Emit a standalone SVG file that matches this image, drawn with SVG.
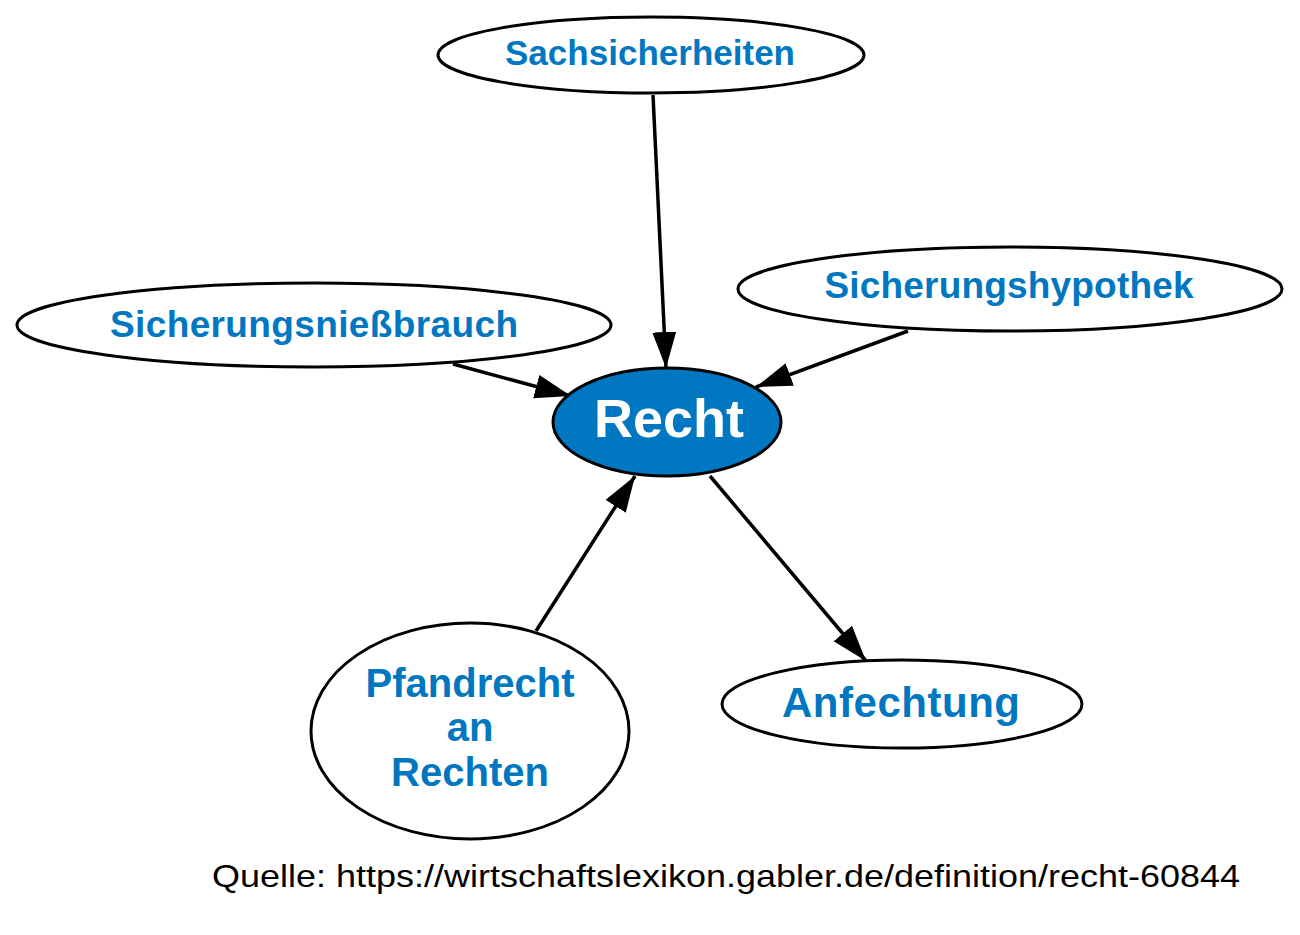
<svg xmlns="http://www.w3.org/2000/svg" width="1300" height="935" viewBox="0 0 1300 935">
<style>
.n{fill:#fff;stroke:#000;stroke-width:3}
.t{font-family:"Liberation Sans",Arial,sans-serif;font-weight:bold;fill:#0077c0;text-anchor:middle}
.e{stroke:#000;stroke-width:3.5;fill:none;marker-end:url(#ah)}
</style>
<defs>
<marker id="ah" markerUnits="userSpaceOnUse" markerWidth="38" markerHeight="26" refX="36" refY="12" orient="auto">
<path d="M0,0 L36,12 L0,24 z" fill="#000"/>
</marker>
</defs>
<rect width="1300" height="935" fill="#fff"/>
<g id="edges">
<line class="e" x1="653" y1="95" x2="666" y2="368"/>
<line class="e" x1="453" y1="364" x2="571" y2="396"/>
<line class="e" x1="908" y1="331" x2="756" y2="387"/>
<line class="e" x1="536" y1="631" x2="635" y2="476"/>
<line class="e" x1="710" y1="476" x2="866" y2="661"/>
</g>
<g id="recht">
<ellipse cx="667" cy="422" rx="114" ry="54" fill="#0077c0" stroke="#000" stroke-width="3"/>
<text x="669" y="437" class="t" style="fill:#fff;font-size:54px">Recht</text>
</g>
<g id="sachsicherheiten">
<ellipse class="n" cx="651" cy="55" rx="213" ry="38"/>
<text x="650" y="65" class="t" font-size="35" textLength="290" lengthAdjust="spacing">Sachsicherheiten</text>
</g>
<g id="sicherungsniessbrauch">
<ellipse class="n" cx="314" cy="325" rx="297" ry="42"/>
<text x="314" y="337" class="t" font-size="37" textLength="408" lengthAdjust="spacing">Sicherungsnießbrauch</text>
</g>
<g id="sicherungshypothek">
<ellipse class="n" cx="1010" cy="289" rx="272" ry="42"/>
<text x="1009" y="298" class="t" font-size="37" textLength="369" lengthAdjust="spacing">Sicherungshypothek</text>
</g>
<g id="anfechtung">
<ellipse class="n" cx="902" cy="704" rx="180" ry="44"/>
<text x="901" y="717" class="t" font-size="42" textLength="238" lengthAdjust="spacing">Anfechtung</text>
</g>
<g id="pfandrecht">
<ellipse class="n" cx="470" cy="731" rx="159" ry="108"/>
<text x="470" y="697" class="t" font-size="40">Pfandrecht</text>
<text x="470" y="741" class="t" font-size="40">an</text>
<text x="470" y="786" class="t" font-size="40">Rechten</text>
</g>
<text x="212" y="887" font-family="'Liberation Sans',Arial,sans-serif" font-size="32" fill="#000" textLength="1028" lengthAdjust="spacingAndGlyphs">Quelle: https://wirtschaftslexikon.gabler.de/definition/recht-60844</text>
</svg>
